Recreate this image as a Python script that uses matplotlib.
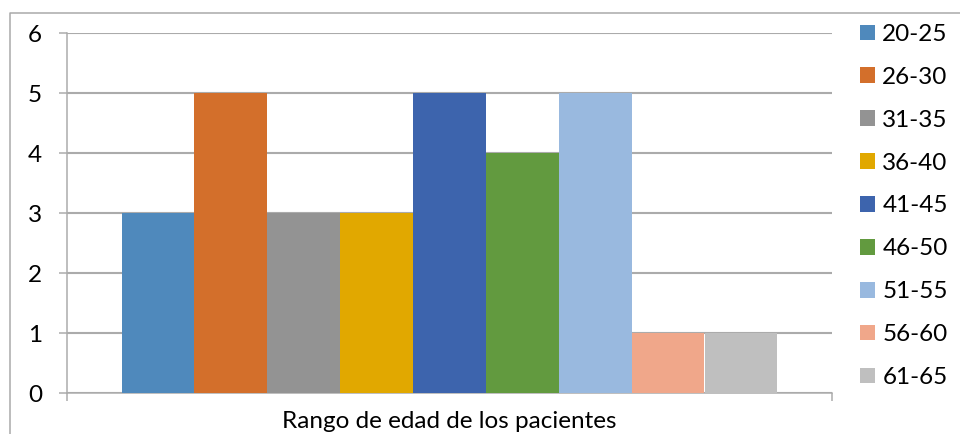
import matplotlib
matplotlib.use("Agg")
import matplotlib.pyplot as plt
from matplotlib.lines import Line2D
from matplotlib.patches import Patch

# Patient counts per age range (single category, one bar per range)
age_ranges = ["20-25", "26-30", "31-35", "36-40", "41-45", "46-50", "51-55", "56-60", "61-65"]
patients = [3, 5, 3, 3, 5, 4, 5, 1, 1]
colors = ["#4F89BC", "#D36F2B", "#939393", "#E1A800", "#3D64AD",
          "#629A3F", "#99B9DF", "#F0A78A", "#BFBFBF"]
y_ticks = [0, 1, 2, 3, 4, 5, 6]
x_title = "Rango de edad de los pacientes"

W, H = 960, 434
PX = 72 / 100  # points per pixel at 100 dpi
fig = plt.figure(figsize=(W / 100, H / 100), dpi=100)
plt.rcParams["font.family"] = ["Lato", "DejaVu Sans"]
FS = 17.5

# plot area in pixel units
left, right, top, bottom = 67, 832, 33, 393
ax = fig.add_axes([left / W, 1 - bottom / H, (right - left) / W, (bottom - top) / H])

n = len(patients)
gap = 1.5
bw = 1.0 / (n + gap)
x0 = gap / 2 * bw
for i, (lab, val, col) in enumerate(zip(age_ranges, patients, colors)):
    ax.bar(x0 + (i + 0.5) * bw, val, width=bw, color=col, label=lab,
           linewidth=0, zorder=3)

grid_col = "#ABABAB"
ax.set_xlim(0, 1)
ax.set_ylim(0, 6)
ax.set_yticks(y_ticks)
ax.set_yticklabels([str(t) for t in y_ticks], fontsize=FS, color="#000000")
ax.yaxis.grid(True, color=grid_col, linewidth=1.5 * PX * 1.4, zorder=0)
ax.set_xticks([0, 1])
ax.set_xticklabels([])
ax.tick_params(axis="y", length=8 * PX, width=1.5 * PX, color=grid_col, pad=17 * PX)
ax.tick_params(axis="x", length=8 * PX, width=1.5 * PX, color=grid_col, direction="out")
for side in ["top", "right"]:
    ax.spines[side].set_visible(False)
for side in ["left", "bottom"]:
    ax.spines[side].set_color(grid_col)
    ax.spines[side].set_linewidth(1.5 * PX)

# category axis title, sitting at the lower edge of the chart
fig.text((left + right) / 2 / W, 1 - 428 / H, x_title, fontsize=FS,
         ha="center", va="baseline", color="#000000")

# legend on the right
handles = [Patch(facecolor=c, edgecolor="none") for c in colors]
fig.legend(handles, age_ranges, loc="upper left",
           bbox_to_anchor=(860 / W, 1 - 24 / H), frameon=False,
           fontsize=FS, handlelength=0.62, handleheight=0.62,
           handletextpad=0.3, labelspacing=0.9, borderaxespad=0,
           borderpad=0)

# outer chart frame
fig.add_artist(Line2D([10 / W, 10 / W, 1.0], [0.0, 1 - 13 / H, 1 - 13 / H],
                      transform=fig.transFigure, color="#A8A8A8", linewidth=1.5 * PX))

fig.savefig("out.png", dpi=100)
